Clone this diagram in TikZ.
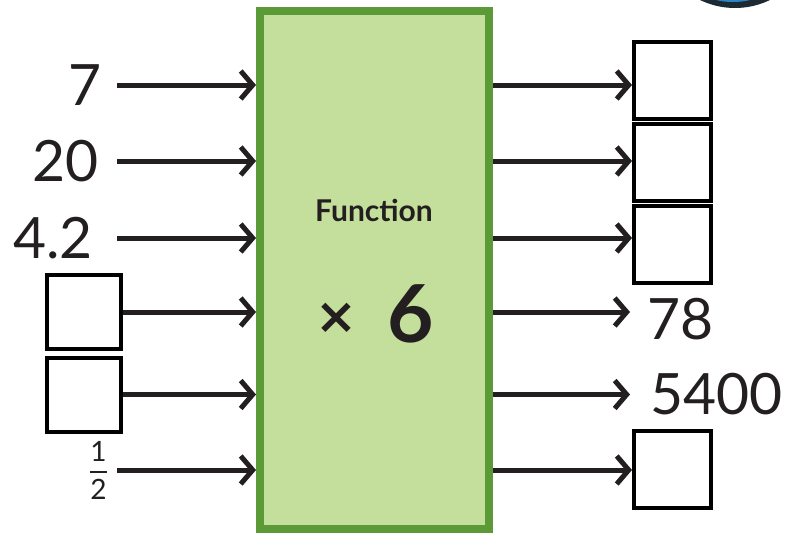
\documentclass[tikz,border=0pt]{standalone}
\usepackage{amsmath}
\usepackage{fontspec}
\setmainfont{Lato}
\newfontfamily\signfont{DejaVu Sans}
\usetikzlibrary{arrows.meta,positioning,calc}
\definecolor{fngreen}{HTML}{5B9A37}
\definecolor{fnfill}{HTML}{C4DF9B}
\definecolor{ink}{HTML}{231F20}
\definecolor{badge}{HTML}{1E2A33}
\definecolor{badgeblue}{HTML}{2A86C0}

\begin{document}
\begin{tikzpicture}[x=1pt,y=-1pt,
  link/.style={ink,line width=5pt,-{Straight Barb[length=12pt,width=28pt]}},
  num/.style={font=\fontsize{57}{60}\selectfont,text=ink,inner ysep=0pt},
  ans box/.style={draw=black,line width=4pt,minimum size=74pt,inner sep=0pt},
  out box/.style={ans box,minimum size=77pt},
  fn box/.style={draw=fngreen,fill=fnfill,line width=8pt,minimum width=229pt,minimum height=518pt}]
\useasboundingbox (0,0) rectangle (793,536);
% corner badge, cut off by the page edge
\begin{scope}
\clip (0,0) rectangle (793,536);
\fill[badge] (735,-72) circle (80);
\fill[badgeblue] (733,-72) circle (74);
\end{scope}
\node[fn box] (fn) at (374.5,270) {};
\node[font=\bfseries\fontsize{30}{32}\selectfont,text=ink] (fname) at (374,210) {Function};
\node[font=\signfont\bfseries\fontsize{50}{52}\selectfont,text=ink] (ftimes) at (336,318) {×};
\node[font=\bfseries\fontsize{80}{84}\selectfont,text=ink] (fsix) at (411,314) {6};
% inputs
\node[num,anchor=east,inner xsep=15pt] (in1) at (117,85) {7};
\node[num,anchor=east,inner xsep=18pt] (in2) at (117,161) {20};
\node[num,anchor=east,inner xsep=24pt] (in3) at (117,238) {4.2};
\node[ans box] (in4) at (84,312) {};
\node[ans box] (in5) at (84,394.5) {};
\node[font=\fontsize{28}{28}\selectfont,text=ink,anchor=east,inner xsep=9pt] (in6) at (117,470) {$\genfrac{}{}{2pt}{0}{\text{1}}{\text{2}}$};
% outputs
\node[out box] (out1) at (672.5,80) {};
\node[out box] (out2) at (672.5,162) {};
\node[out box] (out3) at (672.5,244) {};
\node[num,anchor=west,inner xsep=17pt] (out4) at (630,319) {78};
\node[num,anchor=west,inner xsep=20pt] (out5) at (630,394) {5400};
\node[out box] (out6) at (672.5,469) {};
% connectors in
\draw[link] (in1.east) -- (fn.west |- in1.east);
\draw[link] (in2.east) -- (fn.west |- in2.east);
\draw[link] (in3.east) -- (fn.west |- in3.east);
\draw[link] (in4.east) -- (fn.west |- in4.east);
\draw[link] (in5.east) -- (fn.west |- in5.east);
\draw[link] (in6.east) -- (fn.west |- in6.east);
% connectors out
\draw[link] (fn.east |- in1.east) -- (out1.west |- in1.east);
\draw[link] (fn.east |- in2.east) -- (out2.west |- in2.east);
\draw[link] (fn.east |- in3.east) -- (out3.west |- in3.east);
\draw[link] (fn.east |- in4.east) -- (out4.west |- in4.east);
\draw[link] (fn.east |- in5.east) -- (out5.west |- in5.east);
\draw[link] (fn.east |- in6.east) -- (out6.west |- in6.east);
\end{tikzpicture}
\end{document}
